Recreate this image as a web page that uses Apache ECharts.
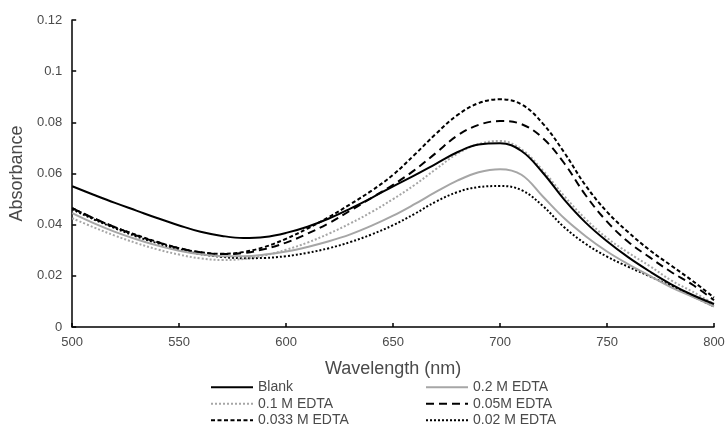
<!DOCTYPE html>
<html>
<head>
<meta charset="utf-8">
<script src="https://cdn.jsdelivr.net/npm/echarts@6/dist/echarts.min.js"></script>
<style>
html,body{margin:0;padding:0;background:#fff;}
#chart{width:728px;height:425px;}
</style>
</head>
<body>
<div id="chart"></div>
<script>
const wavelengths = [500,510,520,530,540,550,560,570,580,590,600,610,620,630,640,650,660,670,680,690,700,710,720,730,740,750,760,770,780,790,800];
const blank      = [.0550,.0517,.0485,.0455,.0425,.0397,.0372,.0356,.0348,.0352,.0368,.0392,.0424,.0463,.0505,.0550,.0593,.0638,.0683,.0713,.0718,.0688,.0603,.0498,.0408,.0335,.0272,.0217,.0167,.0125,.0090];
const edta02M    = [.0445,.0406,.0372,.0343,.0318,.0298,.0284,.0277,.0277,.0283,.0295,.0313,.0335,.0362,.0396,.0435,.0480,.0528,.0572,.0605,.0617,.0595,.0510,.0425,.0355,.0295,.0245,.0200,.0155,.0118,.0080];
const edta01M    = [.0425,.0390,.0357,.0328,.0303,.0283,.0268,.0262,.0266,.0280,.0302,.0330,.0365,.0405,.0450,.0500,.0555,.0617,.0677,.0715,.0727,.0695,.0612,.0512,.0422,.0348,.0290,.0238,.0182,.0138,.0090];
const edta005M   = [.0465,.0425,.0390,.0358,.0331,.0308,.0292,.0285,.0289,.0305,.0330,.0365,.0406,.0455,.0505,.0556,.0613,.0680,.0748,.0790,.0805,.0793,.0738,.0640,.0515,.0412,.0332,.0272,.0215,.0165,.0105];
const edta0033M  = [.0465,.0425,.0390,.0360,.0332,.0308,.0292,.0286,.0293,.0313,.0345,.0385,.0430,.0480,.0533,.0595,.0673,.0755,.0828,.0875,.0890,.0870,.0795,.0682,.0553,.0450,.0370,.0300,.0240,.0180,.0115];
const edta002M   = [.0460,.0421,.0386,.0354,.0327,.0303,.0285,.0274,.0269,.0270,.0277,.0290,.0308,.0332,.0362,.0398,.0442,.0490,.0527,.0547,.0551,.0535,.0473,.0390,.0325,.0275,.0235,.0198,.0160,.0120,.0080];
const seriesNames = ['Blank','0.2 M EDTA','0.1 M EDTA','0.05M EDTA','0.033 M EDTA','0.02 M EDTA'];
const xTicks = [500,550,600,650,700,750,800];
const yTicks = [0,0.02,0.04,0.06,0.08,0.1,0.12];

const pairs = arr => wavelengths.map((w,i)=>[w,arr[i]]);
const styles = [
  {color:'#000000', type:'solid', width:2},
  {color:'#a6a6a6', type:'solid', width:2},
  {color:'#a6a6a6', type:[2,2], width:2},
  {color:'#000000', type:[8,5], width:2},
  {color:'#000000', type:[4,2.5], width:2},
  {color:'#000000', type:[2,2], width:2}
];
const dataSets = [blank, edta02M, edta01M, edta005M, edta0033M, edta002M];
const font = 'Liberation Sans, Arial, sans-serif';
const txt = '#4a4a4a';

const chart = echarts.init(document.getElementById('chart'));
chart.setOption({
  animation:false,
  backgroundColor:'#fff',
  grid:{left:72,right:14,top:20,bottom:98},
  xAxis:{
    type:'value', min:xTicks[0], max:xTicks[xTicks.length-1], interval:50,
    name:'Wavelength (nm)', nameLocation:'middle', nameGap:33,
    nameTextStyle:{fontFamily:font,fontSize:18,color:txt},
    axisLine:{lineStyle:{color:'#000',width:1.5}},
    axisTick:{inside:true,length:4,lineStyle:{color:'#000',width:1.5}},
    axisLabel:{fontFamily:font,fontSize:13,color:txt,margin:9},
    splitLine:{show:false}
  },
  yAxis:{
    type:'value', min:yTicks[0], max:yTicks[yTicks.length-1], interval:0.02,
    name:'Absorbance', nameLocation:'middle', nameGap:45,
    nameTextStyle:{fontFamily:font,fontSize:18,color:txt},
    axisLine:{show:true,lineStyle:{color:'#000',width:1.5}},
    axisTick:{show:true,inside:true,length:4,lineStyle:{color:'#000',width:1.5}},
    axisLabel:{fontFamily:font,fontSize:13,color:txt,margin:10,formatter:v=>String(+v.toFixed(2))},
    splitLine:{show:false}
  },
  legend:{
    data:seriesNames, orient:'horizontal', left:210, top:379, width:430,
    padding:0, itemWidth:42, itemHeight:10, itemGap:0,
    itemStyle:{opacity:0},
    textStyle:{fontFamily:font,fontSize:14,color:txt,width:167,lineHeight:16.5,height:16.5}
  },
  series: dataSets.map((d,i)=>({
    name:seriesNames[i], type:'line', data:pairs(d), smooth:0.4,
    symbol:'none', showSymbol:false,
    lineStyle:styles[i], itemStyle:{color:styles[i].color},
    z: 10-i
  }))
});
</script>
</body>
</html>
